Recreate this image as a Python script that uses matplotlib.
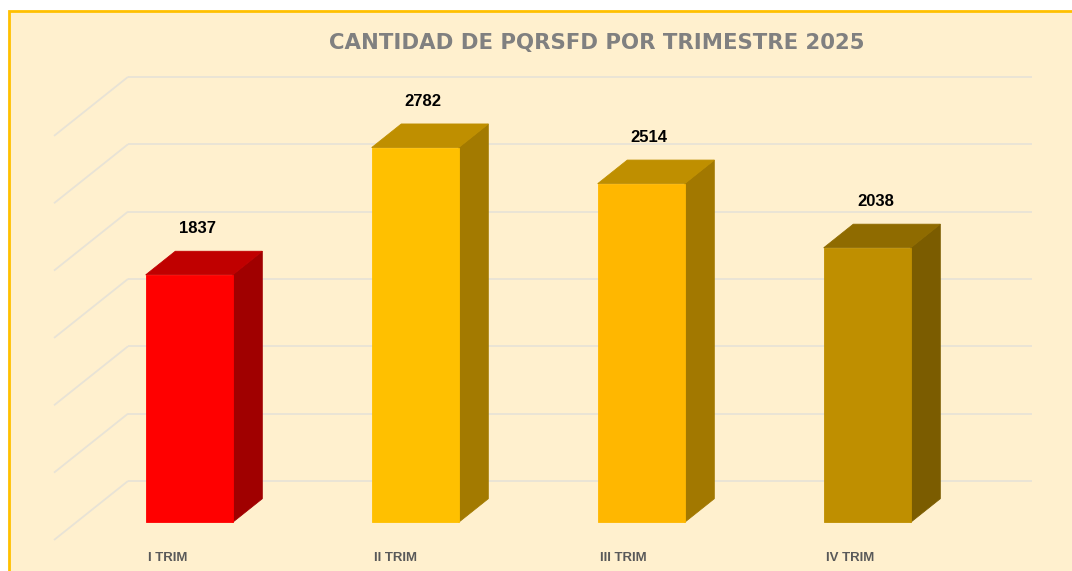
import matplotlib
matplotlib.use("Agg")
import matplotlib.pyplot as plt
from matplotlib.patches import Polygon, Rectangle
import matplotlib.transforms as mtransforms

# ---- data ----
categories = ["I TRIM", "II TRIM", "III TRIM", "IV TRIM"]
values = [1837, 2782, 2514, 2038]
title = "CANTIDAD DE PQRSFD POR TRIMESTRE 2025"
grid_values = [0, 500, 1000, 1500, 2000, 2500, 3000]

# ---- style ----
front_colors = ["#FF0000", "#FFC000", "#FFB700", "#BF8F00"]
top_colors = ["#C00000", "#BF8F00", "#BF8F00", "#8F6B00"]
side_colors = ["#A00000", "#A37A00", "#A27800", "#7B5C00"]
bg = "#FFF0CE"
grid_c = "#E8E3D6"

W, H = 1072, 571
fig = plt.figure(figsize=(W / 100, H / 100), dpi=100, facecolor="white")

# chart frame
frame = Rectangle((9 / W, -0.05), 1.1, 1 - 11 / H + 0.05, transform=fig.transFigure,
                  facecolor=bg, edgecolor="#FFC000", linewidth=2, zorder=-10)
fig.patches.append(frame)

ax = fig.add_axes([0, 0, 1, 1])
ax.set_zorder(5)
ax.set_axis_off()
ax.patch.set_visible(False)

# pixel-derived projection parameters
slot_px = 226.0          # pixels per category slot
k = 0.1347               # pixels per value unit
x0_px = 54.0             # left edge of floor (front)
y0_px = 540.0            # value 0 at front of floor
depth_dx_px, depth_dy_px = 74.0, 59.0

ax.set_xlim(-x0_px / slot_px, (W - x0_px) / slot_px)
ax.set_ylim((y0_px - H) / k, y0_px / k)

DX = depth_dx_px / slot_px
DY = depth_dy_px / k


def P(c, v, z):
    return (c + z * DX, v + z * DY)


n = len(categories)
# gridlines: back wall horizontals + left diagonals
for g in grid_values:
    xs, ys = zip(P(0, g, 1), P(n, g, 1))
    ax.plot(xs, ys, color=grid_c, lw=1.3, zorder=1, solid_capstyle="butt")
    xs, ys = zip(P(0, g, 0), P(0, g, 1))
    ax.plot(xs, ys, color=grid_c, lw=1.3, zorder=1, solid_capstyle="butt")

hw = 43.5 / slot_px
zf, zb = 0.30, 0.70
trans = mtransforms.blended_transform_factory(ax.transData, ax.transAxes)
label_trans = mtransforms.offset_copy(ax.transData, fig=fig, x=0, y=40, units="dots")
for i, (v, lab) in enumerate(zip(values, categories)):
    c = i + 0.5
    l, r = c - hw, c + hw
    front = [P(l, 0, zf), P(r, 0, zf), P(r, v, zf), P(l, v, zf)]
    side = [P(r, 0, zf), P(r, 0, zb), P(r, v, zb), P(r, v, zf)]
    top = [P(l, v, zf), P(r, v, zf), P(r, v, zb), P(l, v, zb)]
    ax.add_patch(Polygon(side, closed=True, facecolor=side_colors[i],
                         edgecolor=side_colors[i], lw=0.6, zorder=3))
    ax.add_patch(Polygon(top, closed=True, facecolor=top_colors[i],
                         edgecolor=top_colors[i], lw=0.6, zorder=3))
    ax.add_patch(Polygon(front, closed=True, facecolor=front_colors[i],
                         edgecolor=front_colors[i], lw=0.6, zorder=4))
    # value label
    lx, ly = P(c, v, zf + 0.11)
    ax.text(lx, ly, f"{v}", transform=label_trans,
            ha="center", va="center", fontsize=12, fontweight="bold",
            family="Liberation Sans", color="black", zorder=5)
    # category label, left aligned at bar front-left
    tx, _ = P(l, 0, zf)
    ax.text(tx + 2 / slot_px, 1 - 558 / H, lab, transform=trans, ha="left", va="center",
            fontsize=9.5, fontweight="bold", family="Liberation Sans",
            color="#595959", zorder=5)

fig.text(597 / W, 1 - 42.5 / H, title, ha="center", va="center", fontsize=15.3,
         fontweight="bold", family="DejaVu Sans", color="#808080")

fig.savefig("out.png", dpi=100, facecolor="white")
